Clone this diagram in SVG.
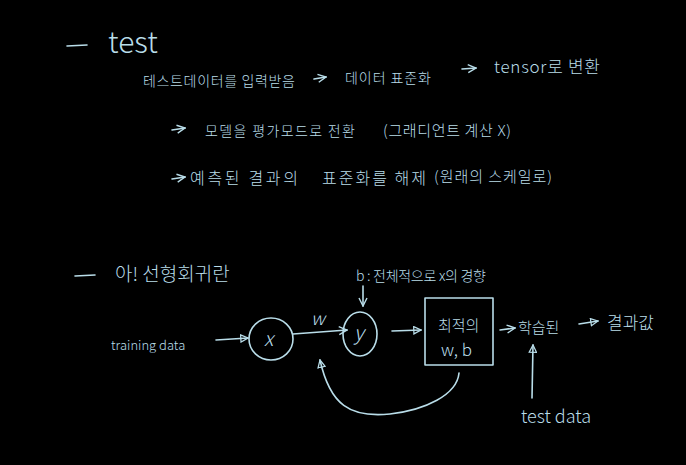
<svg xmlns="http://www.w3.org/2000/svg" width="686" height="465" viewBox="0 0 686 465">
<defs>
<style>
text{font-family:"Noto Sans CJK KR","Noto Sans",sans-serif;fill:#b9dde9;font-weight:300}
.ln{fill:none;stroke:#b9dde9;stroke-width:1.6;stroke-linecap:round;stroke-linejoin:round}
</style>
<marker id="ah" viewBox="0 0 10 10" refX="9" refY="5" markerWidth="9" markerHeight="9" orient="auto" markerUnits="userSpaceOnUse">
<path d="M1,1 L9,5 L1,9 Z" fill="none" stroke="#b9dde9" stroke-width="1.4"/>
</marker>
<marker id="ao" viewBox="0 0 10 10" refX="9" refY="5" markerWidth="10" markerHeight="10" orient="auto" markerUnits="userSpaceOnUse">
<path d="M1,1 L9,5 L1,9" fill="none" stroke="#b9dde9" stroke-width="1.4"/>
</marker>
</defs>
<rect width="686" height="465" fill="#000"/>
<g id="section-test">
<path class="ln" d="M67,46 L87,45"/>
<text x="108" y="53" font-size="30">test</text>
<text x="143" y="86" font-size="14" textLength="152">테스트데이터를 입력받음</text>
<text x="345" y="83" font-size="14" textLength="86">데이터 표준화</text>
<text x="494" y="73" font-size="17" textLength="106">tensor로 변환</text>
<text x="205" y="136" font-size="14" textLength="150">모델을 평가모드로 전환</text>
<text x="383" y="136" font-size="15" textLength="128">(그래디언트 계산 X)</text>
<text x="190" y="184" font-size="16" textLength="108">예측된 결과의</text>
<text x="322" y="184" font-size="16" textLength="104">표준화를 해제</text>
<text x="434" y="182" font-size="15" textLength="118">(원래의 스케일로)</text>
</g>
<g id="section-regression">
<path class="ln" d="M75,276 L95,275"/>
<text x="115" y="281" font-size="19">아! 선형회귀란</text>
<text x="356" y="281" font-size="14" textLength="130">b : 전체적으로 x의 경향</text>
</g>
<g id="node-training">
<text x="111" y="350" font-size="13">training data</text>
</g>
<g id="node-x">
<ellipse class="ln" cx="271" cy="339" rx="22" ry="21"/>
<text x="264" y="346" font-size="20" font-style="italic">x</text>
</g>
<g id="node-y">
<ellipse class="ln" cx="360" cy="334" rx="17" ry="22"/>
<text x="354" y="340" font-size="20" font-style="italic">y</text>
</g>
<g id="node-box">
<rect class="ln" x="425" y="298" width="68" height="67"/>
<text x="438" y="331" font-size="15">최적의</text>
<text x="441" y="356" font-size="17">w, b</text>
</g>
<g id="node-learned">
<text x="518" y="333" font-size="15">학습된</text>
</g>
<g id="node-result">
<text x="607" y="329" font-size="17">결과값</text>
</g>
<g id="node-testdata">
<text x="521" y="423" font-size="18">test data</text>
</g>
<g id="connectors">
<path class="ln" d="M314,79 L326,77" marker-end="url(#ao)"/>
<path class="ln" d="M462,69 L476,68" marker-end="url(#ao)"/>
<path class="ln" d="M172,130 L185,128" marker-end="url(#ao)"/>
<path class="ln" d="M172,179 L185,177" marker-end="url(#ao)"/>
<path class="ln" d="M363,286 L363,306" marker-end="url(#ao)"/>
<path class="ln" d="M216,340 L248,338" marker-end="url(#ah)"/>
<path class="ln" d="M293,334 L347,330" marker-end="url(#ao)"/>
<text x="311" y="325" font-size="18" font-style="italic" font-weight="300">w</text>
<path class="ln" d="M392,331 L421,330" marker-end="url(#ah)"/>
<path class="ln" d="M500,330 L515,328" marker-end="url(#ao)"/>
<path class="ln" d="M579,324 L598,321" marker-end="url(#ah)"/>
<path class="ln" d="M532,398 L533,345" marker-end="url(#ah)"/>
<path class="ln" d="M459,373 C457,395 425,410 390,414 C350,418 330,405 320,360" marker-end="url(#ah)"/>
</g>
</svg>
